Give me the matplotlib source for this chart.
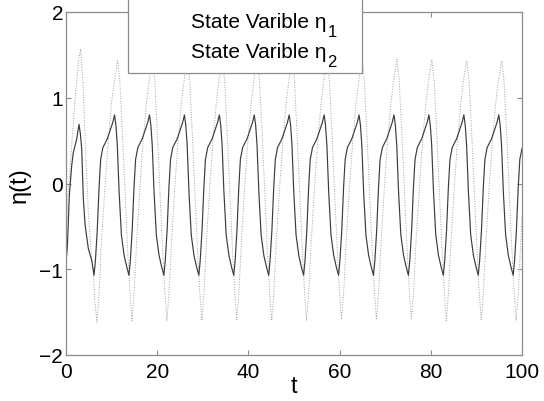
import matplotlib
matplotlib.use("Agg")
import matplotlib.pyplot as plt
from matplotlib.patches import Rectangle

plt.rcParams['font.family'] = ['Liberation Sans', 'DejaVu Sans']
plt.rcParams['mathtext.default'] = 'regular'

# ---------------- data ----------------
x_ticks = [0, 20, 40, 60, 80, 100]
y_ticks = [-2, -1, 0, 1, 2]
x_label = "t"
y_label = "η(t)"
legend_main = ["State Varible η", "State Varible η"]
legend_sub = ["1", "2"]

# State variable eta_1 (solid)
t1 = [0.00, 0.30, 0.73, 1.25, 1.60, 2.35, 2.85, 3.15, 3.45, 3.80, 4.20, 4.90, 5.65,
      6.15, 6.45, 6.85, 7.25, 7.60, 8.10, 9.05, 9.80, 10.25, 10.65, 10.95, 11.25, 11.65, 12.15, 12.75, 13.35,
      13.81, 14.11, 14.51, 14.91, 15.26, 15.76, 16.71, 17.46, 17.91, 18.31, 18.61, 18.91, 19.31, 19.81, 20.41, 21.01,
      21.47, 21.77, 22.17, 22.57, 22.92, 23.42, 24.37, 25.12, 25.57, 25.97, 26.27, 26.57, 26.97, 27.47, 28.07, 28.67,
      29.13, 29.43, 29.83, 30.23, 30.58, 31.08, 32.03, 32.78, 33.23, 33.63, 33.93, 34.23, 34.63, 35.13, 35.73, 36.33,
      36.79, 37.09, 37.49, 37.89, 38.24, 38.74, 39.69, 40.44, 40.89, 41.29, 41.59, 41.89, 42.29, 42.79, 43.39, 43.99,
      44.45, 44.75, 45.15, 45.55, 45.90, 46.40, 47.35, 48.10, 48.55, 48.95, 49.25, 49.55, 49.95, 50.45, 51.05, 51.65,
      52.11, 52.41, 52.81, 53.21, 53.56, 54.06, 55.01, 55.76, 56.21, 56.61, 56.91, 57.21, 57.61, 58.11, 58.71, 59.31,
      59.77, 60.07, 60.47, 60.87, 61.22, 61.72, 62.67, 63.42, 63.87, 64.27, 64.57, 64.87, 65.27, 65.77, 66.37, 66.97,
      67.43, 67.73, 68.13, 68.53, 68.88, 69.38, 70.33, 71.08, 71.53, 71.93, 72.23, 72.53, 72.93, 73.43, 74.03, 74.63,
      75.09, 75.39, 75.79, 76.19, 76.54, 77.04, 77.99, 78.74, 79.19, 79.59, 79.89, 80.19, 80.59, 81.09, 81.69, 82.29,
      82.75, 83.05, 83.45, 83.85, 84.20, 84.70, 85.65, 86.40, 86.85, 87.25, 87.55, 87.85, 88.25, 88.75, 89.35, 89.95,
      90.41, 90.71, 91.11, 91.51, 91.86, 92.36, 93.31, 94.06, 94.51, 94.91, 95.21, 95.51, 95.91, 96.41, 97.01, 97.61,
      98.07, 98.37, 98.77, 99.17, 99.52, 100.00]
eta1 = [-0.92, -0.74, -0.14, 0.21, 0.36, 0.52, 0.69, 0.58, 0.40, -0.18, -0.49, -0.76, -0.90,
        -1.07, -0.90, -0.55, -0.05, 0.28, 0.42, 0.52, 0.64, 0.71, 0.80, 0.68, 0.45, -0.10, -0.60, -0.84, -0.98,
        -1.07, -0.90, -0.55, -0.05, 0.28, 0.42, 0.52, 0.64, 0.71, 0.80, 0.68, 0.45, -0.10, -0.60, -0.84, -0.98,
        -1.07, -0.90, -0.55, -0.05, 0.28, 0.42, 0.52, 0.64, 0.71, 0.80, 0.68, 0.45, -0.10, -0.60, -0.84, -0.98,
        -1.07, -0.90, -0.55, -0.05, 0.28, 0.42, 0.52, 0.64, 0.71, 0.80, 0.68, 0.45, -0.10, -0.60, -0.84, -0.98,
        -1.07, -0.90, -0.55, -0.05, 0.28, 0.42, 0.52, 0.64, 0.71, 0.80, 0.68, 0.45, -0.10, -0.60, -0.84, -0.98,
        -1.07, -0.90, -0.55, -0.05, 0.28, 0.42, 0.52, 0.64, 0.71, 0.80, 0.68, 0.45, -0.10, -0.60, -0.84, -0.98,
        -1.07, -0.90, -0.55, -0.05, 0.28, 0.42, 0.52, 0.64, 0.71, 0.80, 0.68, 0.45, -0.10, -0.60, -0.84, -0.98,
        -1.07, -0.90, -0.55, -0.05, 0.28, 0.42, 0.52, 0.64, 0.71, 0.80, 0.68, 0.45, -0.10, -0.60, -0.84, -0.98,
        -1.07, -0.90, -0.55, -0.05, 0.28, 0.42, 0.52, 0.64, 0.71, 0.80, 0.68, 0.45, -0.10, -0.60, -0.84, -0.98,
        -1.07, -0.90, -0.55, -0.05, 0.28, 0.42, 0.52, 0.64, 0.71, 0.80, 0.68, 0.45, -0.10, -0.60, -0.84, -0.98,
        -1.07, -0.90, -0.55, -0.05, 0.28, 0.42, 0.52, 0.64, 0.71, 0.80, 0.68, 0.45, -0.10, -0.60, -0.84, -0.98,
        -1.07, -0.90, -0.55, -0.05, 0.28, 0.42, 0.52, 0.64, 0.71, 0.80, 0.68, 0.45, -0.10, -0.60, -0.84, -0.98,
        -1.07, -0.90, -0.55, -0.05, 0.28, 0.41]

# State variable eta_2 (dotted)
t2 = [0.00, 0.50, 1.20, 2.00, 2.70, 3.20, 3.70, 4.20, 4.90, 5.50, 6.00, 6.30,
      6.80, 7.30, 7.80, 8.60, 9.30, 10.00, 10.70, 11.30, 11.80, 12.40, 13.00, 13.50, 14.00,
      14.46, 14.96, 15.46, 16.26, 16.96, 17.66, 18.36, 18.96, 19.46, 20.06, 20.66, 21.16, 21.66,
      22.12, 22.62, 23.12, 23.92, 24.62, 25.32, 26.02, 26.62, 27.12, 27.72, 28.32, 28.82, 29.32,
      29.78, 30.28, 30.78, 31.58, 32.28, 32.98, 33.68, 34.28, 34.78, 35.38, 35.98, 36.48, 36.98,
      37.44, 37.94, 38.44, 39.24, 39.94, 40.64, 41.34, 41.94, 42.44, 43.04, 43.64, 44.14, 44.64,
      45.10, 45.60, 46.10, 46.90, 47.60, 48.30, 49.00, 49.60, 50.10, 50.70, 51.30, 51.80, 52.30,
      52.76, 53.26, 53.76, 54.56, 55.26, 55.96, 56.66, 57.26, 57.76, 58.36, 58.96, 59.46, 59.96,
      60.42, 60.92, 61.42, 62.22, 62.92, 63.62, 64.32, 64.92, 65.42, 66.02, 66.62, 67.12, 67.62,
      68.08, 68.58, 69.08, 69.88, 70.58, 71.28, 71.98, 72.58, 73.08, 73.68, 74.28, 74.78, 75.28,
      75.74, 76.24, 76.74, 77.54, 78.24, 78.94, 79.64, 80.24, 80.74, 81.34, 81.94, 82.44, 82.94,
      83.40, 83.90, 84.40, 85.20, 85.90, 86.60, 87.30, 87.90, 88.40, 89.00, 89.60, 90.10, 90.60,
      91.06, 91.56, 92.06, 92.86, 93.56, 94.26, 94.96, 95.56, 96.06, 96.66, 97.26, 97.76, 98.26,
      98.72, 99.22, 99.72, 100.00]
eta2 = [-0.60, -0.10, 0.40, 1.00, 1.40, 1.57, 1.20, 0.52, -0.33, -0.80, -1.04, -1.35,
        -1.62, -1.25, -0.65, 0.00, 0.52, 0.95, 1.22, 1.43, 1.20, 0.55, -0.15, -0.75, -1.25,
        -1.60, -1.25, -0.70, 0.00, 0.52, 0.95, 1.25, 1.47, 1.20, 0.55, -0.15, -0.75, -1.25,
        -1.60, -1.25, -0.70, 0.00, 0.52, 0.95, 1.25, 1.47, 1.20, 0.55, -0.15, -0.75, -1.25,
        -1.60, -1.25, -0.70, 0.00, 0.52, 0.95, 1.25, 1.47, 1.20, 0.55, -0.15, -0.75, -1.25,
        -1.59, -1.25, -0.70, 0.00, 0.52, 0.95, 1.25, 1.47, 1.20, 0.55, -0.15, -0.75, -1.25,
        -1.60, -1.25, -0.70, 0.00, 0.52, 0.95, 1.25, 1.47, 1.20, 0.55, -0.15, -0.75, -1.25,
        -1.60, -1.25, -0.70, 0.00, 0.52, 0.95, 1.25, 1.47, 1.20, 0.55, -0.15, -0.75, -1.25,
        -1.58, -1.25, -0.70, 0.00, 0.52, 0.95, 1.25, 1.46, 1.20, 0.55, -0.15, -0.75, -1.25,
        -1.59, -1.25, -0.70, 0.00, 0.52, 0.95, 1.25, 1.45, 1.20, 0.55, -0.15, -0.75, -1.25,
        -1.58, -1.25, -0.70, 0.00, 0.52, 0.95, 1.25, 1.44, 1.20, 0.55, -0.15, -0.75, -1.25,
        -1.60, -1.25, -0.70, 0.00, 0.52, 0.95, 1.25, 1.43, 1.20, 0.55, -0.15, -0.75, -1.25,
        -1.59, -1.25, -0.70, 0.00, 0.52, 0.95, 1.25, 1.43, 1.20, 0.55, -0.15, -0.75, -1.25,
        -1.60, -1.25, -0.70, -0.38]

# ---------------- figure ----------------
W, H = 544, 402
fig = plt.figure(figsize=(W / 100, H / 100), dpi=100)
L, R, T, B = 66, 522, 13, 356
ax = fig.add_axes([L / W, 1 - B / H, (R - L) / W, (B - T) / H])

ax.plot(t2, eta2, color='#a0a0a0', lw=0.7, linestyle=(0, (1, 1.6)))
ax.plot(t1, eta1, color='#3c3c3c', lw=0.85)

ax.set_xlim(0, 100)
ax.set_ylim(-2, 2)
ax.set_xticks(x_ticks)
ax.set_yticks(y_ticks)
ax.set_xticklabels([str(v) for v in x_ticks])
ax.set_yticklabels([str(v).replace('-', '\u2212') for v in y_ticks])
for s in ax.spines.values():
    s.set_color('#8c8c8c')
    s.set_linewidth(0.9)
ax.tick_params(direction='in', length=3.6, width=0.8, color='#8c8c8c',
               top=True, right=True, labelsize=15, labelcolor='black')
ax.tick_params(axis='x', pad=5)
ax.tick_params(axis='y', pad=2)

fig.text(((L + R) / 2) / W, 1 - 387 / H, x_label, fontsize=17, ha='center', va='center')
fig.text(20 / W, 1 - 185 / H, y_label, fontsize=17, rotation=90, ha='center', va='center')

# legend box (its top runs off the figure)
rect = Rectangle((128 / W, 1 - 74 / H), (362 - 128) / W, 0.25, transform=fig.transFigure,
                 facecolor='white', edgecolor='#8c8c8c', lw=0.9, zorder=5)
fig.patches.append(rect)
renderer = fig.canvas.get_renderer()
for i, base in enumerate([28, 58]):
    txt = fig.text(191 / W, 1 - base / H, legend_main[i], fontsize=15,
                   ha='left', va='baseline', zorder=6)
    bb = txt.get_window_extent(renderer=renderer)
    fig.text((bb.x1 + 1) / W, 1 - (base + 9) / H, legend_sub[i], fontsize=12,
             ha='left', va='baseline', zorder=6)

fig.savefig('out.png', dpi=100)
